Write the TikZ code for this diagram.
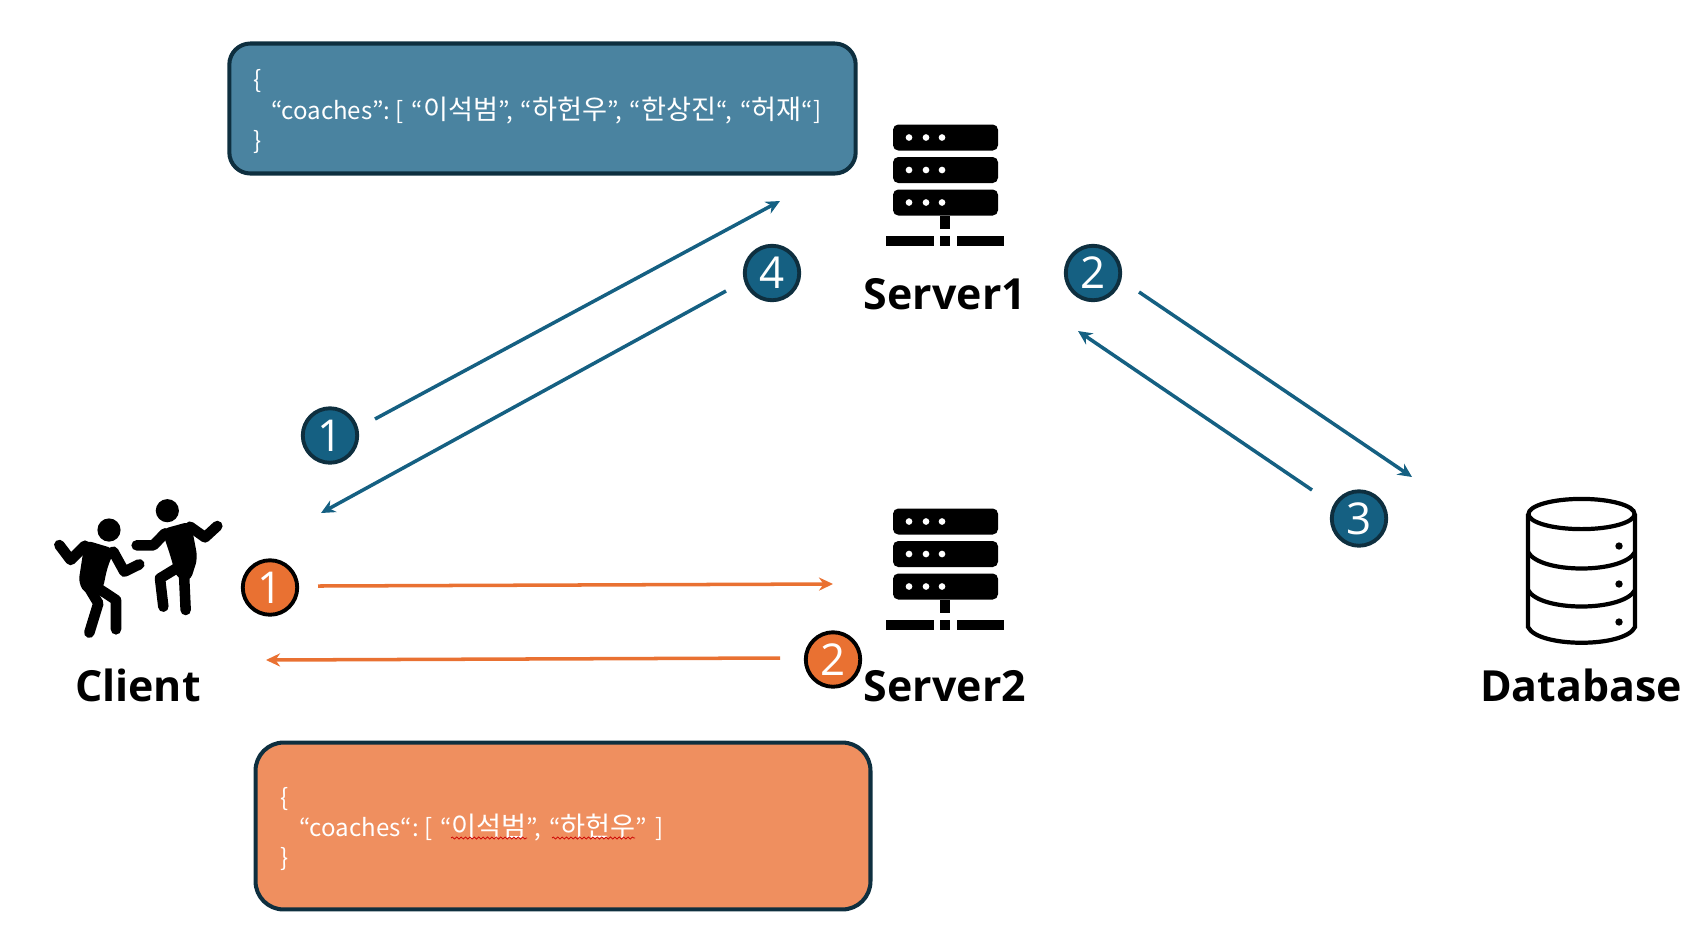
\documentclass[tikz,border=0pt]{standalone}
\usepackage{fontspec}
\usepackage{xcolor}
\usetikzlibrary{arrows.meta,decorations.pathmorphing}
\setmainfont{Open Sans}
\newfontfamily\krfont{Noto Sans CJK KR}
\newfontfamily\krbig[Scale=1.13]{Noto Sans CJK KR}
\newcommand{\kor}[1]{{\krbig #1}}
\definecolor{tealblue}{HTML}{156082}
\definecolor{boxblue}{HTML}{4A83A0}
\definecolor{boxorange}{HTML}{EF8F5F}
\definecolor{darkline}{HTML}{0E2F3F}
\definecolor{arroworange}{HTML}{E97132}

\begin{document}
\begin{tikzpicture}[x=0.02cm,y=-0.02cm,>={Stealth[length=8pt,width=7.5pt]}]
  \tikzstyle{jsonbox}=[draw=darkline,line width=2.3pt,text=white,align=left,inner sep=0pt,font=\krfont\fontsize{13.7pt}{17.2pt}\selectfont]
  \tikzstyle{badge}=[circle,draw=darkline,line width=2.2pt,text=white,minimum size=31pt,inner sep=0pt,font=\fontsize{25pt}{25pt}\selectfont]
  \tikzstyle{bluebadge}=[badge,fill=tealblue]
  \tikzstyle{orangebadge}=[badge,fill=arroworange,draw=black]
  \tikzstyle{title}=[anchor=base,inner sep=0pt,font=\bfseries\fontsize{24.4pt}{24.4pt}\selectfont]
  \tikzstyle{bluearrow}=[->,tealblue,line width=2pt]
  \tikzstyle{orangearrow}=[->,arroworange,line width=2pt]
  \tikzstyle{limb}=[line width=6pt,line cap=round,line join=round]
  \tikzset{servericon/.pic={
    \foreach \rowy in {0,32.5,65} {
      \fill[black,rounded corners=3pt] (-50,\rowy-61) rectangle (55,\rowy-35);
      \foreach \dotx in {-34,-17,-1}
        \fill[white] (\dotx,\rowy-48) circle (1.9pt);
    }
    \fill[black] (-3,30) rectangle (7,43);
    \fill[black] (-57,50) rectangle (-9,60);
    \fill[black] (-3,50) rectangle (7,60);
    \fill[black] (14,50) rectangle (61,60);
  }}
  \useasboundingbox (0,0) rectangle (1702,944);

  % json boxes
  \node[jsonbox,fill=boxblue,rounded corners=12pt,minimum width=356.5pt,minimum height=74pt,text width=329pt] (bluebox) at (542.5,108.5) {\rule{0pt}{14.5pt}\{\\
  \hspace*{10pt}“coaches”:\hspace{3pt}[ “\kor{이석범}”, “\kor{하헌우}”, “\kor{한상진}“, “\kor{허재}“]\\
  \}};
  \node[jsonbox,fill=boxorange,rounded corners=16pt,minimum width=350pt,minimum height=95pt,text width=322pt] (orangebox) at (563,826) {\rule{0pt}{14.5pt}\{\\
  \hspace*{11pt}“coaches“:\hspace{3pt}[ “\kor{이석범}”, “\kor{하헌우}” ]\\
  \}};
  \draw[red!80!black,line width=0.4pt,decorate,decoration={snake,amplitude=0.6pt,segment length=2.5pt}] (451,838) -- (527,838);
  \draw[red!80!black,line width=0.4pt,decorate,decoration={snake,amplitude=0.6pt,segment length=2.5pt}] (552,838) -- (635,838);

  % servers
  \pic at (943,185.5) {servericon};
  \pic at (943,569.5) {servericon};
  \node[title] (server1) at (945,309) {Server1};
  \node[title] (server2) at (945,701) {Server2};

  % database
  \draw[line width=2.4pt] (1581.5,514) ellipse (30.2pt and 8.6pt);
  \draw[line width=2.4pt] (1528,514) -- (1528,627) .. controls (1538,648) and (1625,648) .. (1635,627) -- (1635,514);
  \draw[line width=2.4pt] (1528,552) .. controls (1540,574) and (1623,574) .. (1635,552);
  \draw[line width=2.4pt] (1528,590) .. controls (1540,612) and (1623,612) .. (1635,590);
  \foreach \doty in {546,584,622}
    \fill (1619,\doty) circle (2.1pt);
  \node[title] (database) at (1581,701) {Database};

  % client
  \begin{scope}[shift={(30,480)},x=0.00667cm,y=-0.00667cm]
    \fill (237,150) circle (6.6pt);
    \fill (412,92) circle (6.6pt);
    \fill[rounded corners=4pt] (165,180) -- (255,207) -- (232,262) -- (218,330) -- (170,345) -- (145,310) -- cycle;
    \draw[limb] (88,195) -- (122,240) -- (165,197);
    \draw[limb] (250,215) -- (283,275) -- (328,253);
    \draw[limb] (175,320) -- (205,370) -- (178,458);
    \draw[limb] (205,325) -- (258,360) -- (258,448);
    \fill[rounded corners=4pt] (395,148) -- (482,124) -- (503,235) -- (480,305) -- (440,295) -- (422,230) -- cycle;
    \draw[limb] (320,196) -- (370,196) -- (405,160);
    \draw[limb] (480,140) -- (525,172) -- (562,138);
    \draw[limb] (472,245) -- (390,295) -- (400,380);
    \draw[limb] (462,280) -- (467,390);
  \end{scope}
  \node[title] (client) at (138,701) {Client};

  % badges
  \node[bluebadge] (blue1) at (330,435.5) {1};
  \node[bluebadge] (blue4) at (772,273) {4};
  \node[bluebadge] (blue2) at (1093,273) {2};
  \node[bluebadge] (blue3) at (1359,518.5) {3};
  \node[orangebadge] (orange1) at (270,587.5) {1};
  \node[orangebadge] (orange2) at (833,659.5) {2};

  % arrow ends
  \coordinate (a1) at (375,419);
  \coordinate (a2) at (780,201);
  \coordinate (b1) at (726,291);
  \coordinate (b2) at (321,513);
  \coordinate (c1) at (1139,292);
  \coordinate (c2) at (1412,477);
  \coordinate (d1) at (1312,490);
  \coordinate (d2) at (1078,331);
  \coordinate (e1) at (318,586);
  \coordinate (e2) at (833,584);
  \coordinate (f1) at (780,658);
  \coordinate (f2) at (266,660);

  \draw[bluearrow] (a1) -- (a2);
  \draw[bluearrow] (b1) -- (b2);
  \draw[bluearrow] (c1) -- (c2);
  \draw[bluearrow] (d1) -- (d2);
  \draw[orangearrow] (e1) -- (e2);
  \draw[orangearrow] (f1) -- (f2);
\end{tikzpicture}
\end{document}
